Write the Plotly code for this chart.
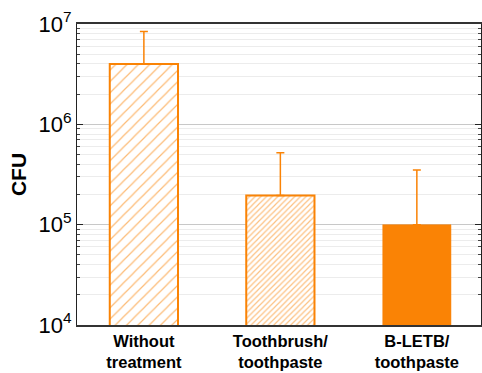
import plotly.graph_objects as go

categories = ["Without<br>treatment", "Toothbrush/<br>toothpaste", "B-LETB/<br>toothpaste"]
cfu = [4.0e6, 1.95e5, 1.0e5]
err_plus_top = [8.4e6, 5.2e5, 3.5e5]
tick_vals = [1e4, 1e5, 1e6, 1e7]
tick_text = ["10<sup>4</sup>", "10<sup>5</sup>", "10<sup>6</sup>", "10<sup>7</sup>"]

err_plus = [t - v for t, v in zip(err_plus_top, cfu)]
orange = "#FA8305"
patterns = [dict(shape="/", size=8, solidity=0.15, fgopacity=0.55, bgcolor="white", fillmode="replace"),
            dict(shape="/", size=4, solidity=0.3, fgopacity=0.5, bgcolor="white", fillmode="replace"),
            None]
line_widths = [2, 2, 0.5]

fig = go.Figure()
for i in range(3):
    marker = dict(color=orange, line=dict(color=orange, width=line_widths[i]))
    if patterns[i] is not None:
        marker["pattern"] = patterns[i]
    fig.add_trace(go.Bar(
        x=[i], y=[cfu[i]], width=0.5, marker=marker,
        error_y=dict(type="data", symmetric=False, array=[err_plus[i]], arrayminus=[0],
                     color=orange, thickness=1.5, width=4),
    ))

fig.update_layout(
    width=482, height=373,
    margin=dict(l=77, r=1, t=24, b=48),
    paper_bgcolor="white", plot_bgcolor="white",
    showlegend=False, barmode="overlay",
    font=dict(family="Liberation Sans, Arial", color="black"),
    xaxis=dict(
        range=[-0.49, 2.47], tickvals=[0, 1, 2], ticktext=[f"<b>{c}</b>" for c in categories],
        tickfont=dict(size=16.5), showline=True, linecolor="#333", linewidth=1.5, mirror=True,
        ticks="", showgrid=False, zeroline=False,
    ),
    yaxis=dict(
        type="log", range=[4, 7], tickvals=tick_vals, ticktext=tick_text,
        tickfont=dict(size=22), showline=True, linecolor="#222", linewidth=1.2, mirror="ticks",
        ticks="inside", ticklen=6, tickcolor="#222", showgrid=True, gridcolor="#c8c8c8", gridwidth=1,
        minor=dict(ticks="inside", ticklen=3, tickcolor="#444", showgrid=True, gridcolor="#ececec", dtick="D1"),
        title=dict(text="<b>CFU</b>", font=dict(size=21), standoff=6),
        zeroline=False,
    ),
)

fig.write_html("out.html", config={"displayModeBar": False},
               post_script="document.body.style.margin='0';document.body.style.padding='0';")
